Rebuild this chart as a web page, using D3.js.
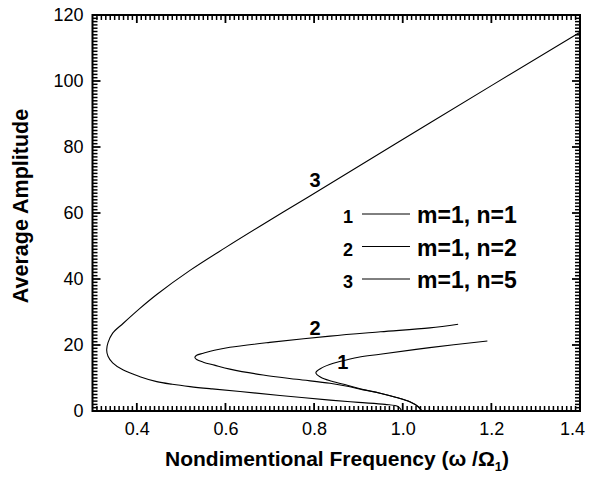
<!DOCTYPE html>
<html><head><meta charset="utf-8">
<script src="https://cdn.jsdelivr.net/npm/d3@7"></script>
<style>
html,body{margin:0;padding:0;background:#fff;}
svg{display:block;font-family:"Liberation Sans",Arial,sans-serif;}
</style></head>
<body><svg id="c" width="591" height="478"></svg>
<script>
// Data (omega/Omega1, average amplitude)
const curve1 = [[1.043,0],[1.035,1.3],[1.016,2.8],[0.986,4.1],[0.949,5.4],[0.911,6.5],[0.875,7.8],[0.84,9.0],[0.815,10.2],[0.804,11.6],[0.815,12.9],[0.835,14.1],[0.858,15.0],[0.9,16.3],[0.949,17.2],[1.061,19.2],[1.191,21.2]];
const curve2 = [[1.043,0],[1.035,1.3],[1.016,2.8],[0.986,4.1],[0.949,5.4],[0.911,6.4],[0.875,7.5],[0.836,8.4],[0.761,9.6],[0.685,10.9],[0.61,12.7],[0.575,13.9],[0.55,14.8],[0.535,15.6],[0.531,16.2],[0.535,16.9],[0.55,17.5],[0.575,18.4],[0.61,19.3],[0.7,20.8],[0.836,22.7],[0.95,24.0],[1.061,25.2],[1.125,26.3]];
const curve3 = [[0.998,0],[0.99,1.3],[0.96,2.0],[0.9,2.6],[0.836,3.3],[0.723,4.7],[0.633,5.9],[0.57,6.7],[0.52,7.4],[0.48,8.1],[0.445,8.9],[0.407,10.4],[0.3695,12.4],[0.3455,14.6],[0.335,16.6],[0.332,18.5],[0.335,20.7],[0.3455,23.6],[0.3695,26.6],[0.407,31.1],[0.445,35.3],[0.52,42.6],[0.6,49.5],[0.7,57.8],[0.786,64.8],[1.061,87.3],[1.4,114.8]];
const seriesIds = ["1","2","3"];
const legendLabels = ["m=1, n=1","m=1, n=2","m=1, n=5"];
const curveLabelPos = [[0.865,14.8],[0.802,25.1],[0.802,70]];
const xTicks = [0.4,0.6,0.8,1.0,1.2,1.4];
const yTicks = [0,20,40,60,80,100,120];
const xDomain = [0.3,1.4];
const yDomain = [0,120];
const xTitle = "Nondimentional Frequency (ω /Ω";
const yTitle = "Average Amplitude";

const svg = d3.select("#c");
const L=92.5, R=580, T=15, B=411;
const x = d3.scaleLinear().domain(xDomain).range([L,R]);
const y = d3.scaleLinear().domain(yDomain).range([B,T]);

const xMinor = d3.range(31,140).map(v=>v/100);
const yMinor = d3.range(1,120);

// tick marks (inward on all four sides), positioned with the scales
const tk = svg.append("g").attr("stroke","#000");
function ticksX(vals, len, w){
  vals.forEach(v=>{
    const px = x(v);
    tk.append("line").attr("x1",px).attr("x2",px).attr("y1",B).attr("y2",B-len).attr("stroke-width",w);
    tk.append("line").attr("x1",px).attr("x2",px).attr("y1",T).attr("y2",T+len).attr("stroke-width",w);
  });
}
function ticksY(vals, len, w){
  vals.forEach(v=>{
    const py = y(v);
    tk.append("line").attr("y1",py).attr("y2",py).attr("x1",L).attr("x2",L+len).attr("stroke-width",w);
    tk.append("line").attr("y1",py).attr("y2",py).attr("x1",R).attr("x2",R-len).attr("stroke-width",w);
  });
}
ticksX(xMinor.filter(v=>!xTicks.some(t=>Math.abs(t-v)<1e-6)), 5, 1.5);
ticksY(yMinor.filter(v=>v%20!==0), 5, 1.5);
ticksX(xTicks, 8, 1.8);
ticksY(yTicks, 8, 1.8);

// tick labels via d3 axes (tick lines hidden)
const xAx = svg.append("g").attr("transform",`translate(0,${B})`)
  .call(d3.axisBottom(x).tickValues(xTicks).tickSize(0).tickPadding(11).tickFormat(d3.format(".1f")));
const yAx = svg.append("g").attr("transform",`translate(${L},0)`)
  .call(d3.axisLeft(y).tickValues(yTicks).tickSize(0).tickPadding(9).tickFormat(d3.format("d")));
[xAx,yAx].forEach(g=>{
  g.select(".domain").remove();
  g.selectAll(".tick line").remove();
  g.selectAll(".tick text").attr("fill","#000").style("font-size","18px")
    .style("font-family","Liberation Sans, Arial, sans-serif");
});
xAx.selectAll(".tick text").filter(d=>d===1.4).attr("dx",-8);

// frame
svg.append("rect").attr("x",L).attr("y",T).attr("width",R-L).attr("height",B-T)
  .attr("fill","none").attr("stroke","#000").attr("stroke-width",2);

// curves
const line = d3.line().x(d=>x(d[0])).y(d=>y(d[1])).curve(d3.curveCatmullRom.alpha(0.5));
svg.append("g").selectAll("path").data([curve1,curve2,curve3]).join("path")
  .attr("d",line).attr("fill","none").attr("stroke","#000").attr("stroke-width",1.1);

// curve labels
svg.append("g").selectAll("text").data(curveLabelPos).join("text")
  .attr("x",d=>x(d[0])).attr("y",d=>y(d[1])).attr("dy","0.35em")
  .attr("text-anchor","middle").style("font-size","20px").style("font-weight","bold")
  .text((d,i)=>seriesIds[i]);

// legend
const lg = svg.append("g");
seriesIds.forEach((id,i)=>{
  const by = 223 + i*32.5;
  lg.append("text").attr("x",348).attr("y",by).attr("text-anchor","middle")
    .style("font-size","18px").style("font-weight","bold").text(id);
  lg.append("line").attr("x1",362).attr("x2",410).attr("y1",by-9).attr("y2",by-9)
    .attr("stroke","#000").attr("stroke-width",1);
  lg.append("text").attr("x",417).attr("y",by)
    .style("font-size","23px").style("font-weight","bold").text(legendLabels[i]);
});

// axis titles
const xt = svg.append("text").attr("x",337).attr("y",466).attr("text-anchor","middle")
  .style("font-size","21px").style("font-weight","bold");
xt.append("tspan").text(xTitle);
xt.append("tspan").attr("dy",5).style("font-size","13px").text("1");
xt.append("tspan").attr("dy",-5).text(")");
svg.append("text").attr("transform",`translate(28,206) rotate(-90)`)
  .attr("text-anchor","middle").style("font-size","21.5px").style("font-weight","bold").text(yTitle);
</script>
</body></html>
